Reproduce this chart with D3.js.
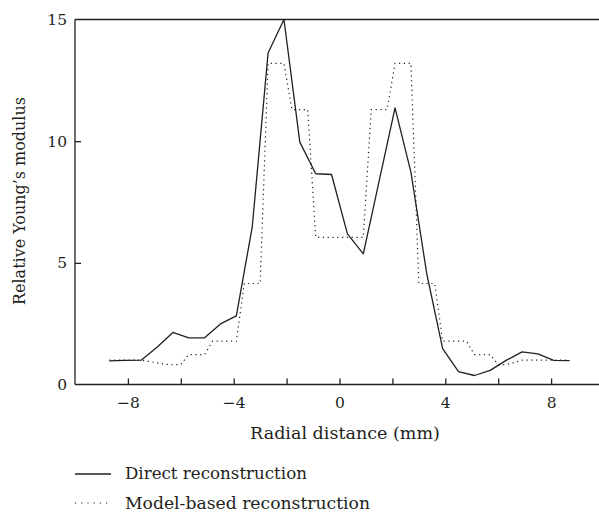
<!DOCTYPE html>
<html><head><meta charset="utf-8">
<script src="https://cdn.jsdelivr.net/npm/d3@7"></script>
<style>
html,body{margin:0;padding:0;background:#fff;}
svg text{font-family:"DejaVu Serif",serif;fill:#231f20;}
</style></head>
<body><svg id="c" width="599" height="516"></svg>
<script>
// Direct reconstruction (solid), sampled every 0.6 mm
const directX = [-8.7,-8.1,-7.5,-6.9,-6.3,-5.7,-5.1,-4.5,-3.9,-3.3,-2.7,-2.1,-1.5,-0.9,-0.3,0.3,0.9,1.5,2.1,2.7,3.3,3.9,4.5,5.1,5.7,6.3,6.9,7.5,8.1,8.7];
const directY = [0.97,0.99,1.0,1.53,2.14,1.92,1.92,2.49,2.82,6.47,13.62,15.0,9.96,8.66,8.63,6.19,5.37,8.37,11.37,8.73,4.55,1.47,0.53,0.37,0.58,0.99,1.34,1.26,0.99,0.98];
// Model-based reconstruction (dotted), sampled every 0.3 mm
const modelX = [-8.7,-8.4,-8.1,-7.8,-7.5,-7.2,-6.9,-6.6,-6.3,-6.0,-5.7,-5.4,-5.1,-4.8,-4.5,-4.2,-3.9,-3.6,-3.3,-3.0,-2.7,-2.4,-2.1,-1.8,-1.5,-1.2,-0.9,-0.6,-0.3,0.0,0.3,0.6,0.9,1.2,1.5,1.8,2.1,2.4,2.7,3.0,3.3,3.6,3.9,4.2,4.5,4.8,5.1,5.4,5.7,6.0,6.3,6.6,6.9,7.2,7.5,7.8,8.1,8.4,8.7];
const modelY = [1.0,1.0,1.0,1.0,1.0,0.95,0.89,0.83,0.82,0.82,1.23,1.23,1.23,1.78,1.78,1.78,1.78,4.15,4.15,4.15,13.2,13.2,13.2,11.3,11.3,11.3,6.05,6.05,6.05,6.05,6.05,6.05,6.05,11.3,11.3,11.3,13.2,13.2,13.2,4.15,4.15,4.15,1.78,1.78,1.78,1.78,1.23,1.23,1.23,0.82,0.82,0.9,1.0,1.0,1.0,1.0,1.0,1.0,1.0];
const xTicks = [-8,-6,-4,-2,0,2,4,6,8];
const xTickLabels = ["\u22128","","\u22124","","0","","4","","8"];
const yTicks = [0,5,10,15];
const seriesNames = ["Direct reconstruction","Model-based reconstruction"];
const xTitle = "Radial distance (mm)";
const yTitle = "Relative Young\u2019s modulus";

const svg = d3.select("#c");
const ink = "#231f20";
const FONT = "DejaVu Serif, serif";
const x = d3.scaleLinear().domain([-10,10]).range([75,604]);
const y = d3.scaleLinear().domain([0,15]).range([384.5,19.5]);

// fit a text element's font size so its width equals the target width
function fit(sel, target){
  const n = sel.node();
  const w = n.getComputedTextLength();
  const fs = parseFloat(sel.attr("font-size"));
  if (w > 0) sel.attr("font-size", (fs*target/w).toFixed(2));
  return sel;
}

const g = svg.append("g");
g.append("line").attr("x1",x(-10)).attr("x2",x(-10)).attr("y1",y(0)).attr("y2",y(15)).attr("stroke",ink).attr("stroke-width",1.3);
g.append("line").attr("x1",x(-10)).attr("x2",x(10)).attr("y1",y(15)).attr("y2",y(15)).attr("stroke",ink).attr("stroke-width",1.3);

const xAxis = d3.axisBottom(x).tickValues(xTicks).tickSize(-6).tickPadding(12)
  .tickFormat((d,i)=>xTickLabels[i]);
const xa = svg.append("g").attr("transform",`translate(0,${y(0)})`).call(xAxis);
xa.select(".domain").attr("d",`M${x(-10)},0H${x(10)}`).attr("stroke",ink).attr("stroke-width",1.3);
xa.selectAll(".tick line").attr("stroke",ink).attr("stroke-width",1.3);
xa.selectAll(".tick text").attr("font-size",15.5).attr("fill",ink).attr("font-family",FONT).attr("dy","0.71em");

const yAxis = d3.axisLeft(y).tickValues(yTicks).tickSize(-6).tickPadding(8).tickFormat(d3.format("d"));
const ya = svg.append("g").attr("transform",`translate(${x(-10)},0)`).call(yAxis);
ya.select(".domain").remove();
ya.selectAll(".tick line").filter(d=>d===0||d===15).remove();
ya.selectAll(".tick line").attr("stroke",ink).attr("stroke-width",1.3);
ya.selectAll(".tick text").attr("font-size",15.5).attr("fill",ink).attr("font-family",FONT);

const line = d3.line().x(d=>x(d[0])).y(d=>y(d[1]));
svg.append("path").datum(modelX.map((v,i)=>[v,modelY[i]]))
  .attr("d",line).attr("fill","none").attr("stroke",ink).attr("stroke-width",1.2)
  .attr("stroke-dasharray","1.2,3.6");
svg.append("path").datum(directX.map((v,i)=>[v,directY[i]]))
  .attr("d",line).attr("fill","none").attr("stroke",ink).attr("stroke-width",1.3)
  .attr("stroke-linejoin","round");

fit(svg.append("text").attr("x",345).attr("y",439).attr("text-anchor","middle").attr("font-size",16).attr("font-family",FONT).text(xTitle), 190);
fit(svg.append("text").attr("transform","translate(25,201) rotate(-90)").attr("text-anchor","middle").attr("font-size",16).attr("font-family",FONT).text(yTitle), 208);

// legend
const lg = svg.append("g");
lg.append("line").attr("x1",75).attr("x2",111).attr("y1",474).attr("y2",474).attr("stroke",ink).attr("stroke-width",1.3);
lg.append("line").attr("x1",75).attr("x2",111).attr("y1",503).attr("y2",503).attr("stroke",ink).attr("stroke-width",1.2).attr("stroke-dasharray","1.2,5");
fit(lg.append("text").attr("x",125).attr("y",479).attr("font-size",16).attr("font-family",FONT).text(seriesNames[0]), 182);
fit(lg.append("text").attr("x",125).attr("y",509).attr("font-size",16).attr("font-family",FONT).text(seriesNames[1]), 245);
</script></body></html>
